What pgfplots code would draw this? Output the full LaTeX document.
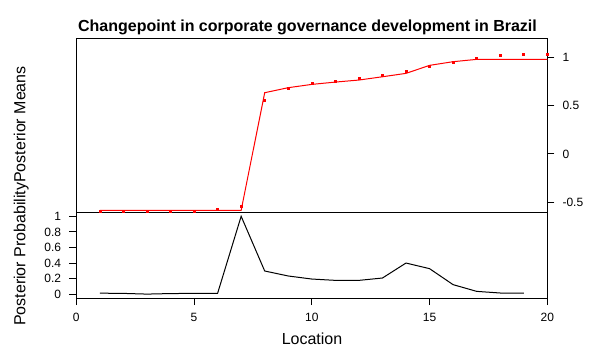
\documentclass[border=0pt]{standalone}
\usepackage{pgfplots}
\pgfplotsset{compat=1.18}
\usepackage{fontspec}
\setmainfont{Liberation Sans}
\begin{document}
\begin{tikzpicture}
\useasboundingbox (0pt,0pt) rectangle (457.5pt,270.75pt);
\pgfplotsset{
  every axis/.append style={
    scale only axis,
    width=353.25pt,
    xmin=0, xmax=20,
    axis line style={line width=0.75pt},
    tick style={line width=0.75pt, black},
    tick align=outside,
    major tick length=5.25pt,
    /pgf/number format/assume math mode=true,
    tick label style={font=\fontsize{9}{10}\selectfont, inner sep=0pt},
  },
}
% bottom panel: posterior probability
\begin{axis}[
  at={(57.225pt,47.25pt)}, anchor=south west,
  height=64.275pt,
  ymin=-0.047, ymax=1.051,
  xtick={0,5,10,15,20},
  ytick={0,0.2,0.4,0.6,0.8,1},
  xtick pos=bottom, ytick pos=left,
  xticklabel shift=6pt, yticklabel shift=6pt,
]
\addplot[black, line width=0.75pt] coordinates {
 (1,0.015) (2,0.012) (3,0.003) (4,0.010) (5,0.012) (6,0.013) (7,1.0)
 (8,0.299) (9,0.235) (10,0.196) (11,0.179) (12,0.179) (13,0.209)
 (14,0.401) (15,0.329) (16,0.124) (17,0.038) (18,0.017) (19,0.017)
};
\end{axis}
% top panel: posterior means
\begin{axis}[
  at={(57.225pt,111.525pt)}, anchor=south west,
  height=130.5pt,
  ymin=-0.6035, ymax=1.197,
  xtick=\empty,
  ytick={-0.5,0,0.5,1},
  ytick pos=right,
  yticklabel shift=6pt,
]
\addplot[red, line width=0.75pt] coordinates {
 (1,-0.584) (2,-0.584) (3,-0.584) (4,-0.584) (5,-0.584) (6,-0.584) (7,-0.584)
 (8,0.634) (9,0.686) (10,0.720) (11,0.744) (12,0.765) (13,0.799) (14,0.834)
 (15,0.917) (16,0.955) (17,0.979) (18,0.979) (19,0.979) (20,0.979)
};
\addplot[red, only marks, mark=square*, mark size=0.75pt] coordinates {
 (1,-0.594) (2,-0.594) (3,-0.594) (4,-0.594) (5,-0.594) (6,-0.567) (7,-0.536)
 (8,0.558) (9,0.682) (10,0.727) (11,0.755) (12,0.786) (13,0.817) (14,0.858)
 (15,0.907) (16,0.951) (17,0.986) (18,1.017) (19,1.027) (20,1.027)
};
\end{axis}
\node[anchor=base, inner sep=0pt, font=\fontsize{12}{14}\selectfont\bfseries] at (230.6pt,246.98pt) {Changepoint in corporate governance development in Brazil};
\node[anchor=base, inner sep=0pt, font=\fontsize{12}{14}\selectfont] at (234pt,12.75pt) {Location};
\node[anchor=base, rotate=90, inner sep=0pt, font=\fontsize{12}{14}\selectfont] at (18.98pt,123.75pt) {Posterior ProbabilityPosterior Means};
\end{tikzpicture}
\end{document}
